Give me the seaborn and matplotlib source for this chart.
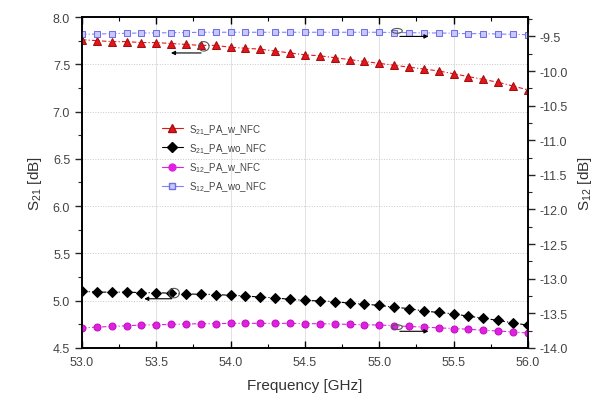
import numpy as np
import pandas as pd
import matplotlib
matplotlib.use("Agg")
import matplotlib.pyplot as plt
import seaborn as sns
from matplotlib.ticker import MultipleLocator, FormatStrFormatter
from matplotlib.patches import Ellipse
from matplotlib.lines import Line2D

sns.set_style("white")
plt.rcParams['font.family'] = ['Liberation Sans', 'DejaVu Sans']
plt.rcParams['mathtext.fontset'] = 'custom'
plt.rcParams['mathtext.rm'] = 'Liberation Sans'
plt.rcParams['mathtext.it'] = 'Liberation Sans'

freq = [53.0, 53.1, 53.2, 53.3, 53.4, 53.5, 53.6, 53.7, 53.8, 53.9,
        54.0, 54.1, 54.2, 54.3, 54.4, 54.5, 54.6, 54.7, 54.8, 54.9,
        55.0, 55.1, 55.2, 55.3, 55.4, 55.5, 55.6, 55.7, 55.8, 55.9, 56.0]

s21_w_nfc = [7.76, 7.75, 7.74, 7.74, 7.73, 7.73, 7.72, 7.71, 7.70, 7.70,
             7.68, 7.67, 7.66, 7.64, 7.62, 7.60, 7.59, 7.57, 7.55, 7.53,
             7.51, 7.49, 7.47, 7.45, 7.43, 7.40, 7.37, 7.34, 7.31, 7.27, 7.23]

s21_wo_nfc = [5.10, 5.09, 5.09, 5.09, 5.085, 5.085, 5.078, 5.07, 5.068, 5.064,
              5.057, 5.05, 5.037, 5.03, 5.013, 5.003, 4.997, 4.99, 4.973, 4.963,
              4.95, 4.93, 4.916, 4.89, 4.875, 4.86, 4.835, 4.815, 4.79, 4.765, 4.74]

s12_w_nfc = [-13.71, -13.70, -13.69, -13.68, -13.67, -13.665, -13.66, -13.655, -13.65, -13.65,
             -13.645, -13.645, -13.645, -13.645, -13.645, -13.65, -13.65, -13.655, -13.66, -13.665,
             -13.67, -13.68, -13.69, -13.70, -13.71, -13.72, -13.73, -13.745, -13.755, -13.77, -13.785]

s12_wo_nfc = [-9.47, -9.465, -9.46, -9.455, -9.45, -9.45, -9.445, -9.445, -9.44, -9.44,
              -9.44, -9.44, -9.44, -9.44, -9.44, -9.44, -9.44, -9.44, -9.44, -9.44,
              -9.44, -9.445, -9.445, -9.45, -9.45, -9.455, -9.46, -9.46, -9.465, -9.47, -9.475]

labels = [r"S$_{21}$_PA_w_NFC", r"S$_{21}$_PA_wo_NFC",
          r"S$_{12}$_PA_w_NFC", r"S$_{12}$_PA_wo_NFC"]

fig = plt.figure(figsize=(6.05, 4.10), dpi=100)
ax = fig.add_axes([0.1355, 0.149, 0.737, 0.807])
ax2 = ax.twinx()

lw = 0.8
ls = (0, (4, 2, 1, 2))
sns.lineplot(x=freq, y=s21_w_nfc, ax=ax, color='#e8141c', marker='^', markersize=6,
             markeredgecolor='#a01010', linestyle=ls, linewidth=lw)
sns.lineplot(x=freq, y=s21_wo_nfc, ax=ax, color='black', marker='D', markersize=5,
             markeredgecolor='black', linestyle=ls, linewidth=lw)
sns.lineplot(x=freq, y=s12_w_nfc, ax=ax2, color='#e020e0', marker='o', markersize=5,
             markeredgecolor='#c010c0', linestyle=ls, linewidth=lw)
sns.lineplot(x=freq, y=s12_wo_nfc, ax=ax2, color='#8080ff', marker='s', markersize=5,
             markerfacecolor='#c8c8ff', markeredgecolor='#7070e0', linestyle=ls,
             linewidth=lw)

ax.set_xlim(53.0, 56.0)
ax.set_ylim(4.5, 8.0)
ax2.set_ylim(-14.0, -9.22)

ax.xaxis.set_major_locator(MultipleLocator(0.5))
ax.xaxis.set_minor_locator(MultipleLocator(0.25))
ax.yaxis.set_major_locator(MultipleLocator(0.5))
ax.yaxis.set_minor_locator(MultipleLocator(0.25))
ax2.yaxis.set_major_locator(MultipleLocator(0.5))
ax2.yaxis.set_minor_locator(MultipleLocator(0.25))

ax.xaxis.set_major_formatter(FormatStrFormatter('%.1f'))
ax.yaxis.set_major_formatter(FormatStrFormatter('%.1f'))
ax2.yaxis.set_major_formatter(FormatStrFormatter('%.1f'))

ax.grid(True, axis='x', which='major', color='#dddddd', linewidth=0.6, linestyle='-')
ax.grid(True, axis='y', which='major', color='#c8c8c8', linewidth=0.7, linestyle=':')
ax.set_axisbelow(True)

tc = '#444444'
ax.tick_params(axis='x', which='both', direction='in', top=True, bottom=True,
               labelsize=9, colors='black', labelcolor=tc, pad=6)
ax.tick_params(axis='x', which='major', length=5, width=1)
ax.tick_params(axis='x', which='minor', length=3, width=0.8)
ax.tick_params(axis='y', which='major', direction='out', length=5, width=1,
               labelsize=9, labelcolor=tc)
ax.tick_params(axis='y', which='minor', direction='out', length=3, width=0.8)
ax2.tick_params(axis='y', which='major', direction='out', length=5, width=1,
                labelsize=9, labelcolor=tc)
ax2.tick_params(axis='y', which='minor', direction='out', length=3, width=0.8)

for a in (ax, ax2):
    for s in a.spines.values():
        s.set_color('black')
        s.set_linewidth(1.2)

ax.set_xlabel("Frequency [GHz]", fontsize=11, color='#333333', labelpad=7)
ax.set_ylabel(r"S$_{21}$ [dB]", fontsize=11, color='#333333', labelpad=6)
ax2.set_ylabel(r"S$_{12}$ [dB]", fontsize=11, color='#333333', labelpad=6)

# annotation ellipses + arrows
ax.add_patch(Ellipse((53.82, 7.69), 0.07, 0.1, fill=False, edgecolor='#555555', lw=0.8, zorder=5))
ax.annotate("", xy=(53.58, 7.62), xytext=(53.82, 7.62),
            arrowprops=dict(arrowstyle='-|>', color='black', lw=0.8, mutation_scale=6))
ax.add_patch(Ellipse((53.62, 5.08), 0.07, 0.1, fill=False, edgecolor='#555555', lw=0.8, zorder=5))
ax.annotate("", xy=(53.4, 5.02), xytext=(53.62, 5.02),
            arrowprops=dict(arrowstyle='-|>', color='black', lw=0.8, mutation_scale=6))
ax2.add_patch(Ellipse((55.12, -9.42), 0.07, 0.07, fill=False, edgecolor='#555555', lw=0.8, zorder=5))
ax2.annotate("", xy=(55.35, -9.5), xytext=(55.12, -9.5),
             arrowprops=dict(arrowstyle='-|>', color='black', lw=0.8, mutation_scale=6))
ax2.add_patch(Ellipse((55.12, -13.70), 0.07, 0.07, fill=False, edgecolor='#555555', lw=0.8, zorder=5))
ax2.annotate("", xy=(55.35, -13.76), xytext=(55.12, -13.76),
             arrowprops=dict(arrowstyle='-|>', color='black', lw=0.8, mutation_scale=6))

handles = [
    Line2D([], [], color='#e8141c', marker='^', markersize=6, markeredgecolor='#a01010', lw=0.8),
    Line2D([], [], color='black', marker='D', markersize=5, lw=0.8),
    Line2D([], [], color='#e020e0', marker='o', markersize=5, lw=0.8),
    Line2D([], [], color='#8080ff', marker='s', markersize=5, markerfacecolor='#c8c8ff',
           markeredgecolor='#7070e0', lw=0.8),
]
leg = ax2.legend(handles, labels, loc='upper left', bbox_to_anchor=(0.17, 0.695), frameon=False,
                 fontsize=7, handlelength=2.2, labelspacing=0.55, borderaxespad=0,
                 handletextpad=0.6)
for t in leg.get_texts():
    t.set_color('#444444')

fig.savefig("out.png", dpi=100)
